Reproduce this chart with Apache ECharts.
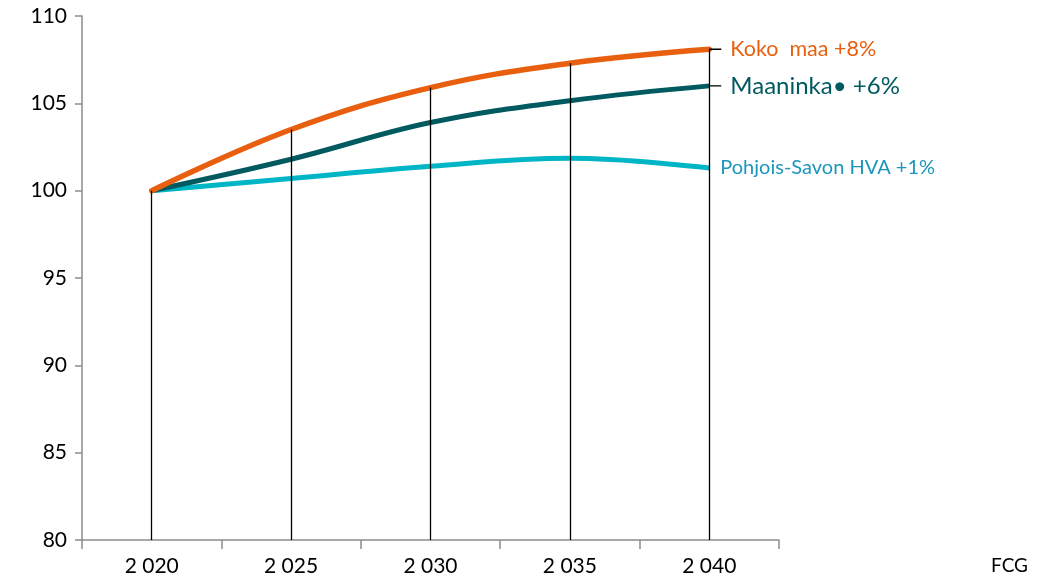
<!DOCTYPE html>
<html><head><meta charset="utf-8">
<script src="https://cdn.jsdelivr.net/npm/echarts@6/dist/echarts.min.js"></script>
<style>html,body{margin:0;padding:0;background:#fff}#c{width:1051px;height:586px}</style>
</head><body><div id="c"></div>
<script>
const categories = ['2 020', '2 025', '2 030', '2 035', '2 040'];
const kokoMaa = [100, 103.5, 105.9, 107.3, 108.1];
const maaninka = [100, 101.8, 103.9, 105.15, 106.0];
const pohjoisSavo = [100, 100.7, 101.4, 101.85, 101.3];
const seriesNames = ['Koko maa', 'Maaninka', 'Pohjois-Savon HVA'];
const endTexts = ['Koko  maa +8%', 'Maaninka\u2022 +6%', 'Pohjois-Savon HVA +1%'];
const yTicks = { min: 80, max: 110, interval: 5 };

const FONT = 'Lato';
const chart = echarts.init(document.getElementById('c'));

const dropLines = categories.map((c, i) => [
  { coord: [c, yTicks.min] },
  { coord: [c, kokoMaa[i]] }
]);

function endLabel(text, color, size, withTick, dist) {
  return {
    show: true,
    distance: dist,
    formatter: withTick ? '{t|}{s|' + text + '}' : '{s|' + text + '}',
    rich: {
      t: { width: 12, height: 0, borderColor: '#000', borderWidth: 0.7, backgroundColor: '#000' },
      s: { color: color, fontSize: size, fontFamily: FONT, padding: [0, 0, 0, withTick ? 9 : 0] }
    }
  };
}

chart.setOption({
  animation: false,
  title: {
    text: 'FCG', right: 18, top: 551,
    textStyle: { fontFamily: FONT, fontSize: 19, fontWeight: 'normal', color: '#000' }
  },
  grid: { left: 82, right: 272, top: 16, bottom: 46, containLabel: false },
  xAxis: {
    type: 'category', data: categories, boundaryGap: true,
    axisLine: { lineStyle: { color: '#8c8c8c', width: 1.5 } },
    axisTick: { show: true, length: 9, lineStyle: { color: '#8c8c8c', width: 1.5 } },
    axisLabel: { color: '#000', fontFamily: FONT, fontSize: 21, margin: 16 }
  },
  yAxis: {
    type: 'value', min: yTicks.min, max: yTicks.max, interval: yTicks.interval,
    splitLine: { show: false },
    axisLine: { show: true, lineStyle: { color: '#8c8c8c', width: 1.5 } },
    axisTick: { show: true, length: 7, lineStyle: { color: '#8c8c8c', width: 1.5 } },
    axisLabel: { color: '#000', fontFamily: FONT, fontSize: 21, margin: 15 }
  },
  series: [
    {
      name: seriesNames[2], type: 'line', data: pohjoisSavo, smooth: 0.4,
      symbol: 'none', lineStyle: { color: '#00B5C6', width: 5 }, z: 2,
      endLabel: endLabel(endTexts[2], '#1C96BC', 20, false, 11)
    },
    {
      name: seriesNames[1], type: 'line', data: maaninka, smooth: 0.4,
      symbol: 'none', lineStyle: { color: '#005A60', width: 5 }, z: 3,
      endLabel: endLabel(endTexts[1], '#005A60', 24, true, 0)
    },
    {
      name: seriesNames[0], type: 'line', data: kokoMaa, smooth: 0.4,
      symbol: 'none', lineStyle: { color: '#E8600F', width: 5.5, cap: 'round' }, z: 4,
      endLabel: endLabel(endTexts[0], '#E8600F', 21.5, true, 0),
      markLine: {
        silent: true, symbol: 'none', animation: false,
        lineStyle: { color: '#000', width: 1.3, type: 'solid' },
        label: { show: false },
        data: dropLines
      }
    }
  ]
});
</script></body></html>
